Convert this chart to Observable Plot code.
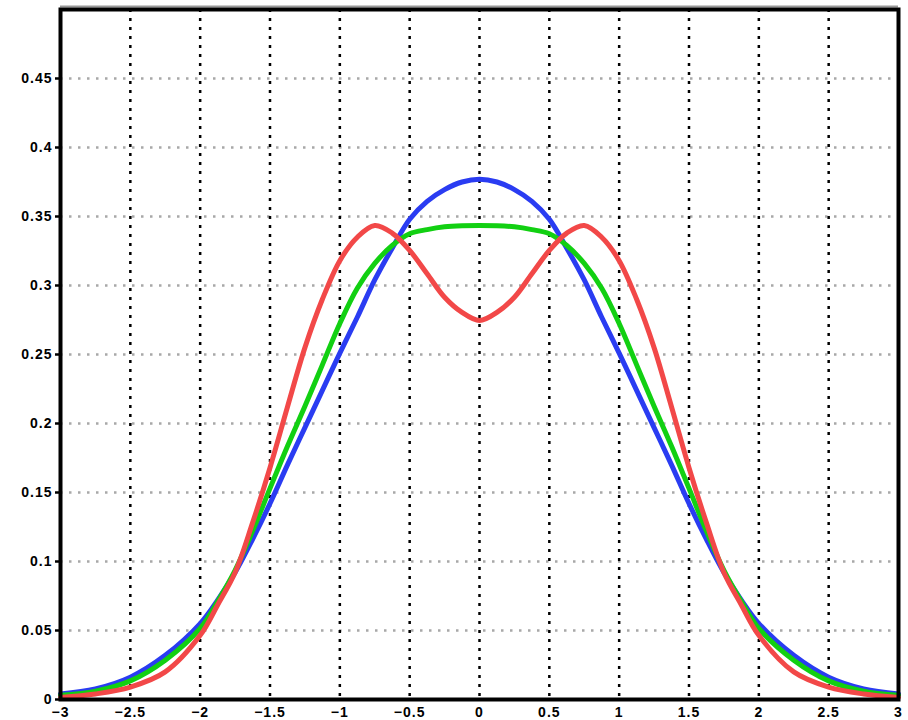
<!DOCTYPE html>
<html>
<head>
<meta charset="utf-8">
<script src="https://cdn.jsdelivr.net/npm/d3@7"></script>
<script src="https://cdn.jsdelivr.net/npm/@observablehq/plot@0.6"></script>
<style>
  html, body { margin: 0; padding: 0; background: #fff; }
  #chart { width: 908px; height: 720px; overflow: hidden; }
  svg text { font-family: "Liberation Sans", Arial, sans-serif; font-weight: bold; letter-spacing: 1px; }
</style>
</head>
<body>
<div id="chart"></div>
<script>
const xs = [-3,-2.75,-2.5,-2.25,-2,-1.875,-1.75,-1.625,-1.5,-1.375,-1.25,-1.125,-1,-0.875,-0.75,-0.625,-0.5,-0.375,-0.25,-0.125,0,
            0.125,0.25,0.375,0.5,0.625,0.75,0.875,1,1.125,1.25,1.375,1.5,1.625,1.75,1.875,2,2.25,2.5,2.75,3];
const blueVals = [0.004,0.0077,0.0162,0.032,0.055,0.072,0.092,0.116,0.142,0.170,0.197,0.224,0.251,0.277,0.304,0.327,0.348,0.361,0.3695,0.375,0.377,
                  0.375,0.3695,0.361,0.348,0.327,0.304,0.277,0.251,0.224,0.197,0.170,0.142,0.116,0.092,0.072,0.055,0.032,0.0162,0.0077,0.004];
const greenVals = [0.003,0.006,0.0135,0.0285,0.0515,0.071,0.0935,0.122,0.153,0.1835,0.2125,0.2425,0.2725,0.298,0.316,0.329,0.3375,0.3405,0.3425,0.3433,0.3435,
                   0.3433,0.3425,0.3405,0.3375,0.329,0.316,0.298,0.2725,0.2425,0.2125,0.1835,0.153,0.122,0.0935,0.071,0.0515,0.0285,0.0135,0.006,0.003];
const redVals = [0.0015,0.004,0.009,0.020,0.0465,0.0685,0.092,0.128,0.168,0.212,0.255,0.290,0.318,0.335,0.3435,0.338,0.3254,0.3085,0.2915,0.2805,0.2746,
                 0.2805,0.2915,0.3085,0.3254,0.338,0.3435,0.335,0.318,0.290,0.255,0.212,0.168,0.128,0.092,0.0685,0.0465,0.020,0.009,0.004,0.0015];

const xTicks = [-3,-2.5,-2,-1.5,-1,-0.5,0,0.5,1,1.5,2,2.5,3];
const xTickLabels = ["\u22123","\u22122.5","\u22122","\u22121.5","\u22121","\u22120.5","0","0.5","1","1.5","2","2.5","3"];
const yTicks = [0,0.05,0.1,0.15,0.2,0.25,0.3,0.35,0.4,0.45];
const yTickLabels = ["0","0.05","0.1","0.15","0.2","0.25","0.3","0.35","0.4","0.45"];
const xGrid = [-2.5,-2,-1.5,-1,-0.5,0,0.5,1,1.5,2,2.5];
const yGrid = [0.05,0.1,0.15,0.2,0.25,0.3,0.35,0.4,0.45];

const blue = xs.map((x, i) => ({x, y: blueVals[i]}));
const green = xs.map((x, i) => ({x, y: greenVals[i]}));
const red = xs.map((x, i) => ({x, y: redVals[i]}));

const chart = Plot.plot({
  width: 908,
  height: 720,
  marginLeft: 60,
  marginRight: 10,
  marginTop: 9,
  marginBottom: 21,
  style: {background: "#fff", fontSize: "14px", color: "#000"},
  x: {domain: [-3, 3], label: null},
  y: {domain: [0, 0.5], label: null},
  marks: [
    Plot.ruleY(yGrid, {stroke: "#a8a8a8", strokeWidth: 2.5, strokeDasharray: "2.5,6.5"}),
    Plot.ruleX(xGrid, {stroke: "#000", strokeWidth: 2.5, strokeDasharray: "3,6"}),
    Plot.line(blue, {x: "x", y: "y", stroke: "#2a3cf2", strokeWidth: 5, curve: "catmull-rom"}),
    Plot.line(green, {x: "x", y: "y", stroke: "#12d012", strokeWidth: 5, curve: "catmull-rom"}),
    Plot.line(red, {x: "x", y: "y", stroke: "#f24848", strokeWidth: 5, curve: "catmull-rom"}),
    Plot.ruleY([0.5], {stroke: "#999", strokeWidth: 2, dy: -3}),
    Plot.frame({stroke: "#000", strokeWidth: 4}),
    Plot.axisY({ticks: yTicks, tickFormat: (d) => yTickLabels[yTicks.indexOf(d)], tickSize: 5, tickPadding: 3, strokeWidth: 2.5, label: null}),
    Plot.axisX({ticks: xTicks, tickFormat: (d) => xTickLabels[xTicks.indexOf(d)], tickSize: 0, tickPadding: 8, label: null})
  ]
});
document.getElementById("chart").appendChild(chart);
</script>
</body>
</html>
